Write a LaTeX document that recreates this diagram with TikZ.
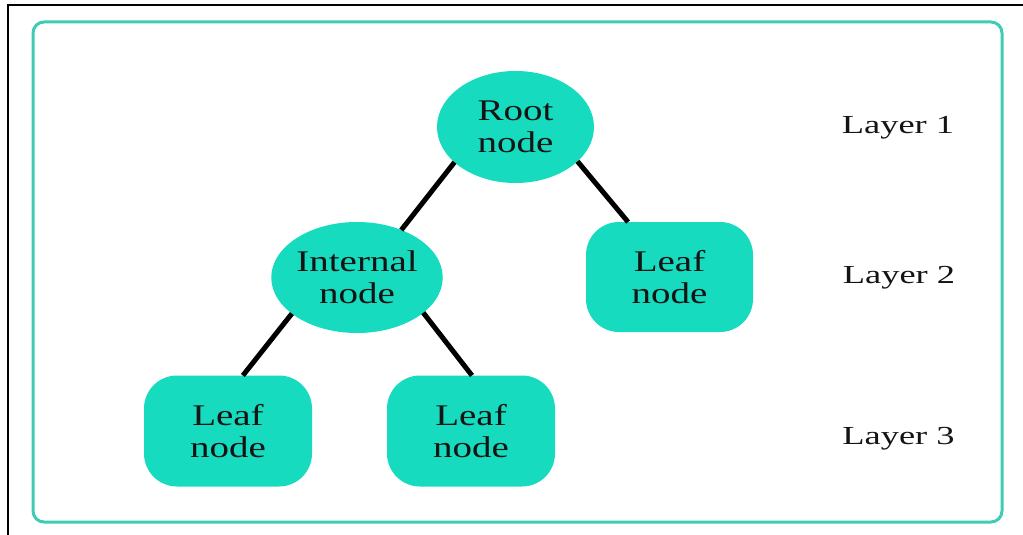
\documentclass[tikz,border=0pt]{standalone}
\usepackage{fontspec}
\usetikzlibrary{shapes.geometric}
\newfontfamily\wideserif{Liberation Serif}[FakeStretch=1.3]
\newfontfamily\layerserif{Liberation Serif}[FakeStretch=1.4]
\definecolor{nodefill}{RGB}{22,219,190}
\definecolor{framecol}{RGB}{64,204,180}
\begin{document}
\begin{tikzpicture}[x=1pt,y=-1pt,
  txt/.style={font=\wideserif\fontsize{30}{32}\selectfont, text=black!92, align=center},
  ellnode/.style={ellipse, fill=nodefill, inner sep=0pt, outer sep=0pt, txt},
  leafnode/.style={rectangle, rounded corners=33pt, fill=nodefill, inner sep=0pt, outer sep=0pt,
                   minimum width=168pt, minimum height=111pt, txt},
  edge/.style={line width=5pt, black},
  layer/.style={font=\layerserif\fontsize{26}{30}\selectfont, text=black!92, anchor=base}]
\useasboundingbox (0,0) rectangle (1023,535);
\fill[white] (0,0) rectangle (1023,535);
% outer frame edges
\draw[line width=2pt, black] (7.8,535) -- (7.8,5) -- (1023,5);
% rounded teal panel
\draw[line width=3pt, framecol, rounded corners=11pt] (33,22) rectangle (1002,522);

% tree nodes
\node[ellnode, minimum width=157pt, minimum height=112pt] (root) at (515.5,127) {Root\\node};
\node[ellnode, minimum width=158pt, minimum height=111pt] (internal) at (357,277.5) {Internal\\node};
\node[leafnode, minimum width=167pt, minimum height=110pt] (leafR) at (669.5,277) {Leaf\\node};
\node[leafnode] (leafL) at (228,431) {Leaf\\node};
\node[leafnode] (leafM) at (471,431) {Leaf\\node};

% connectors
\draw[edge] (root.210.8) -- (internal.47.8);
\draw[edge] (root.-29.6) -- (leafR.127);
\draw[edge] (internal.209) -- (leafL.75);
\draw[edge] (internal.-28.7) -- (leafM.89);

% layer labels
\node[layer] (l1) at (898,133) {Layer 1};
\node[layer] (l2) at (899,283) {Layer 2};
\node[layer] (l3) at (898.5,444) {Layer 3};
\end{tikzpicture}
\end{document}
